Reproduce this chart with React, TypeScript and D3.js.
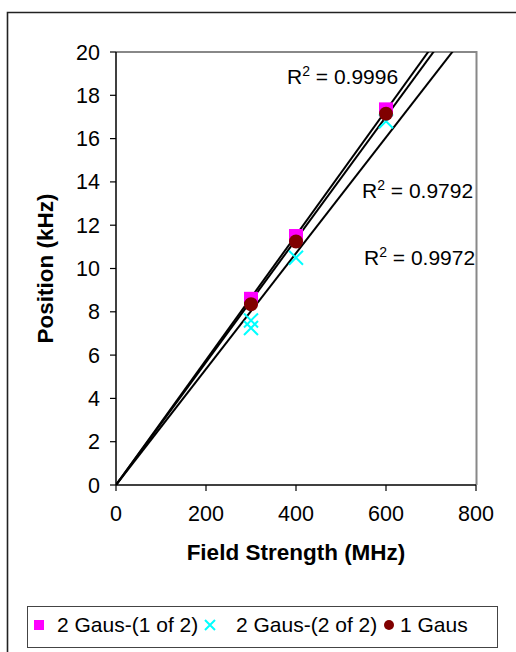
import React from "react";
import * as d3 from "d3";

const xTicks = [0, 200, 400, 600, 800];
const yTicks = [0, 2, 4, 6, 8, 10, 12, 14, 16, 18, 20];

const gaus1of2X = [300, 400, 600];
const gaus1of2Y = [8.6, 11.5, 17.35];
const gaus2of2X = [300, 300, 400, 600];
const gaus2of2Y = [7.6, 7.25, 10.5, 16.8];
const gaus1X = [300, 400, 600];
const gaus1Y = [8.35, 11.25, 17.15];

const r2Labels = ["0.9996", "0.9792", "0.9972"];
const legendLabels = ["2 Gaus-(1 of 2)", "2 Gaus-(2 of 2)", "1 Gaus"];

const FONT = "'Liberation Sans', Arial, sans-serif";

function slopeThroughOrigin(xs: number[], ys: number[]) {
  const sxy = d3.sum(xs.map((x, i) => x * ys[i]));
  const sxx = d3.sum(xs.map((x) => x * x));
  return sxy / sxx;
}

export default function App() {
  const x = d3.scaleLinear().domain([0, 800]).range([116, 476]);
  const y = d3.scaleLinear().domain([0, 20]).range([485, 52]);

  const slopes = [
    slopeThroughOrigin(gaus1of2X, gaus1of2Y),
    slopeThroughOrigin(gaus2of2X, gaus2of2Y),
    slopeThroughOrigin(gaus1X, gaus1Y),
  ];
  const line = d3
    .line<[number, number]>()
    .x((d) => x(d[0]))
    .y((d) => y(d[1]));

  const r2Pos = [
    { x: 287, y: 84 },
    { x: 362, y: 198 },
    { x: 364, y: 265 },
  ];

  const sq = 14;
  const xs = 7;
  const fs = 21.5;
  const lfs = 21;

  return (
    <svg
      width={516}
      height={652}
      style={{ position: "absolute", left: 0, top: 0, background: "#fff" }}
      fontFamily={FONT}
    >
      <defs>
        <clipPath id="plotclip">
          <rect x={116} y={52} width={360} height={433} />
        </clipPath>
      </defs>
      {/* outer chart frame (top and left visible) */}
      <path d="M7.5,700 L7.5,12.5 L600,12.5" fill="none" stroke="#222" strokeWidth={1.6} />

      {/* plot area top/right border */}
      <path d="M116,52 L476.5,52 L476.5,485" fill="none" stroke="#888" strokeWidth={2} />

      {/* trend lines */}
      <g clipPath="url(#plotclip)">
        {slopes.map((s, i) => (
          <path
            key={i}
            d={line([
              [0, 0],
              [800, s * 800],
            ]) || ""}
            fill="none"
            stroke="#000"
            strokeWidth={2}
          />
        ))}
      </g>

      {/* axes */}
      <line x1={116} y1={52} x2={116} y2={485} stroke="#000" strokeWidth={1.5} />
      <line x1={116} y1={485} x2={476} y2={485} stroke="#000" strokeWidth={1.5} />
      {yTicks.map((t) => (
        <g key={"y" + t}>
          <line x1={110} x2={116} y1={y(t)} y2={y(t)} stroke="#000" strokeWidth={1.2} />
          <text x={100} y={y(t) + 7.5} textAnchor="end" fontSize={fs} fill="#000">
            {t}
          </text>
        </g>
      ))}
      {xTicks.map((t) => (
        <g key={"x" + t}>
          <line x1={x(t)} x2={x(t)} y1={485} y2={491} stroke="#000" strokeWidth={1.2} />
          <text x={x(t)} y={521} textAnchor="middle" fontSize={fs} fill="#000">
            {t}
          </text>
        </g>
      ))}

      {/* axis titles */}
      <text x={296} y={560} textAnchor="middle" fontSize={22.5} fontWeight="bold" fill="#000">
        Field Strength (MHz)
      </text>
      <text
        transform={`translate(53,268.5) rotate(-90)`}
        textAnchor="middle"
        fontSize={22.5}
        fontWeight="bold"
        fill="#000"
      >
        Position (kHz)
      </text>

      {/* data points */}
      {gaus1of2X.map((v, i) => (
        <rect
          key={"m" + i}
          x={x(v) - sq / 2}
          y={y(gaus1of2Y[i]) - sq / 2}
          width={sq}
          height={sq}
          fill="#ff00ff"
        />
      ))}
      {gaus2of2X.map((v, i) => (
        <path
          key={"c" + i}
          d={`M${x(v) - xs},${y(gaus2of2Y[i]) - xs} L${x(v) + xs},${y(gaus2of2Y[i]) + xs} M${x(v) + xs},${y(gaus2of2Y[i]) - xs} L${x(v) - xs},${y(gaus2of2Y[i]) + xs}`}
          stroke="#00ffff"
          strokeWidth={2}
          fill="none"
        />
      ))}
      {gaus1X.map((v, i) => (
        <circle key={"r" + i} cx={x(v)} cy={y(gaus1Y[i])} r={7} fill="#800000" />
      ))}

      {/* R² labels */}
      {r2Labels.map((l, i) => (
        <text key={"r2" + i} x={r2Pos[i].x} y={r2Pos[i].y} fontSize={lfs} fill="#000">
          R
          <tspan fontSize={14} dy={-8}>
            2
          </tspan>
          <tspan dy={8}> = {l}</tspan>
        </text>
      ))}

      {/* legend */}
      <rect x={27.5} y={606.5} width={470} height={41} fill="#fff" stroke="#444" strokeWidth={1} />
      <rect x={34} y={620} width={10} height={10} fill="#ff00ff" />
      <text x={57} y={632} fontSize={lfs} fill="#000">
        {legendLabels[0]}
      </text>
      <path d="M205,620 L215,630 M215,620 L205,630" stroke="#00ffff" strokeWidth={2} />
      <text x={236} y={632} fontSize={lfs} fill="#000">
        {legendLabels[1]}
      </text>
      <circle cx={389} cy={625} r={5} fill="#800000" />
      <text x={400} y={632} fontSize={lfs} fill="#000">
        {legendLabels[2]}
      </text>
    </svg>
  );
}
